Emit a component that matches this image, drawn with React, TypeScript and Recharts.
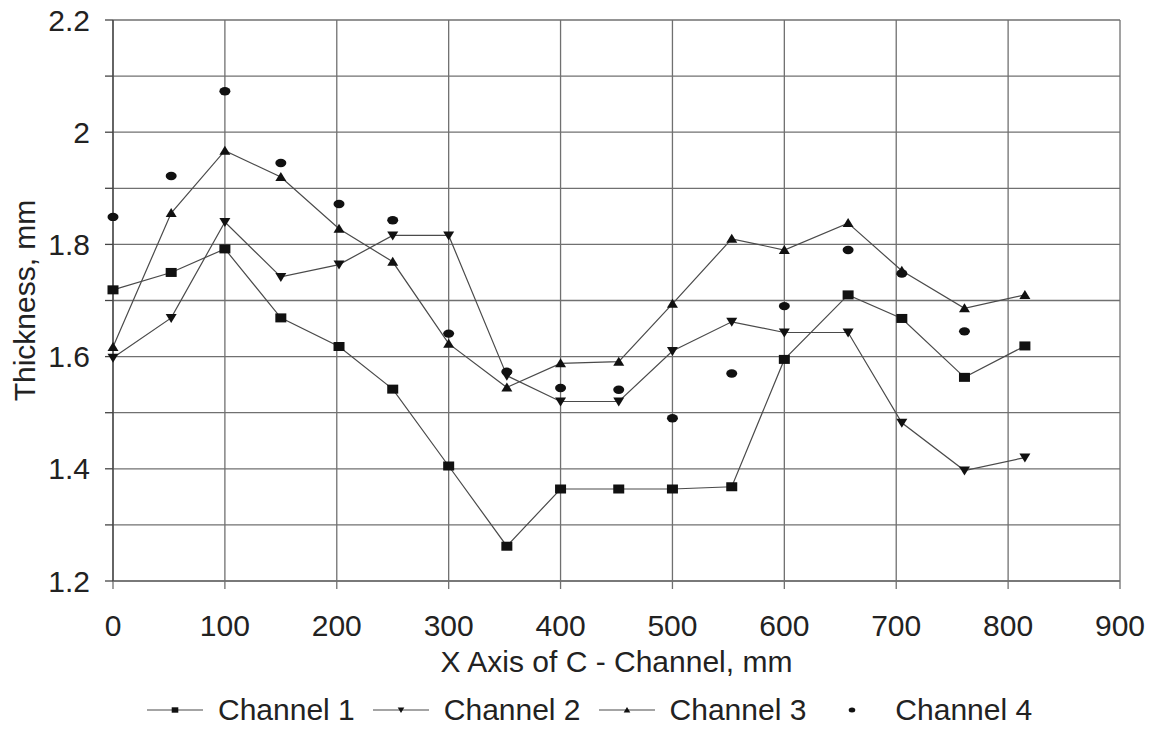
import { LineChart, Line, XAxis, YAxis, CartesianGrid, Legend, Label } from 'recharts';

// x positions along the C-channel (mm)
const xPositions = [0, 52, 100, 150, 202, 250, 300, 352, 400, 452, 500, 553, 600, 657, 705, 761, 815];

const channel1 = [1.719, 1.75, 1.792, 1.669, 1.618, 1.542, 1.405, 1.262, 1.364, 1.364, 1.364, 1.368, 1.595, 1.71, 1.668, 1.563, 1.619];
const channel2 = [1.598, 1.669, 1.84, 1.742, 1.764, 1.816, 1.816, 1.566, 1.52, 1.52, 1.61, 1.662, 1.643, 1.643, 1.482, 1.397, 1.42];
const channel3 = [1.617, 1.856, 1.967, 1.92, 1.828, 1.769, 1.623, 1.545, 1.588, 1.591, 1.694, 1.81, 1.79, 1.838, 1.753, 1.686, 1.71];
const channel4 = [1.849, 1.922, 2.073, 1.945, 1.872, 1.843, 1.641, 1.573, 1.544, 1.541, 1.49, 1.57, 1.69, 1.79, 1.748, 1.645, null];

const xTicks = [0, 100, 200, 300, 400, 500, 600, 700, 800, 900];
const yTicks = [1.2, 1.3, 1.4, 1.5, 1.6, 1.7, 1.8, 1.9, 2.0, 2.1, 2.2];

const seriesNames = ['Channel 1', 'Channel 2', 'Channel 3', 'Channel 4'];

const data = xPositions.map((x, i) => ({
  x,
  ch1: channel1[i],
  ch2: channel2[i],
  ch3: channel3[i],
  ch4: channel4[i],
}));

const FONT = '"Liberation Sans", Arial, sans-serif';
const TEXT = '#222';
const GRID = '#707070';
const LINE = '#4a4a4a';
const MARK = '#111';

// marker shapes
const Marker = ({ kind, cx, cy, s = 1 }: { kind: string; cx: number; cy: number; s?: number }) => {
  if (cx == null || cy == null) return null;
  if (kind === 'square') {
    return <rect x={cx - 5.5 * s} y={cy - 4.5 * s} width={11 * s} height={9 * s} fill={MARK} />;
  }
  if (kind === 'down') {
    return <path d={`M${cx - 5.5 * s},${cy - 4 * s}L${cx + 5.5 * s},${cy - 4 * s}L${cx},${cy + 5 * s}Z`} fill={MARK} />;
  }
  if (kind === 'up') {
    return <path d={`M${cx - 5.5 * s},${cy + 4 * s}L${cx + 5.5 * s},${cy + 4 * s}L${cx},${cy - 5 * s}Z`} fill={MARK} />;
  }
  return <ellipse cx={cx} cy={cy} rx={5.5 * s} ry={4.2 * s} fill={MARK} />;
};

const dotOf = (kind: string) => (props: any) => (
  <Marker key={`${kind}-${props.index}`} kind={kind} cx={props.cx} cy={props.cy} />
);

const kinds = ['square', 'down', 'up', 'circle'];

const LegendContent = () => (
  <div style={{ display: 'flex', alignItems: 'center', height: 40, paddingLeft: 147, fontFamily: FONT, fontSize: 30, color: TEXT }}>
    {seriesNames.map((name, i) => (
      <div key={name} style={{ display: 'flex', alignItems: 'center', marginRight: 18 }}>
        <svg width={56} height={20} style={{ marginRight: 15 }}>
          {i < 3 && <line x1={0} y1={10} x2={56} y2={10} stroke={LINE} strokeWidth={1.2} />}
          <Marker kind={kinds[i]} cx={28} cy={10} s={0.6} />
        </svg>
        <span style={{ whiteSpace: 'nowrap' }}>{name}</span>
      </div>
    ))}
  </div>
);

export default function App() {
  return (
    <div style={{ position: 'absolute', left: 0, top: 0, width: 1153, height: 731, background: '#fff' }}>
      <LineChart width={1153} height={731} data={data} margin={{ top: 20, right: 33, left: 3, bottom: 10 }}>
        <CartesianGrid stroke={GRID} strokeWidth={1.3} />
        <XAxis
          dataKey="x"
          type="number"
          domain={[0, 900]}
          ticks={xTicks}
          interval={0}
          height={100}
          tickSize={8}
          tickMargin={26}
          axisLine={{ stroke: GRID, strokeWidth: 1.3 }}
          tickLine={{ stroke: GRID, strokeWidth: 1.3 }}
          tick={{ fill: TEXT, fontSize: 30, fontFamily: FONT }}
        >
          <Label
            content={({ viewBox }: any) => (
              <text
                x={viewBox.x + viewBox.width / 2}
                y={viewBox.y + 91}
                textAnchor="middle"
                fill={TEXT}
                fontSize={30}
                fontFamily={FONT}
              >
                X Axis of C - Channel, mm
              </text>
            )}
          />
        </XAxis>
        <YAxis
          type="number"
          domain={[1.2, 2.2]}
          ticks={yTicks}
          interval={0}
          width={110}
          tickSize={8}
          tickMargin={15}
          axisLine={{ stroke: '#444', strokeWidth: 1.3 }}
          tickLine={{ stroke: '#444', strokeWidth: 1.3 }}
          tick={{ fill: TEXT, fontSize: 30, fontFamily: FONT }}
          tickFormatter={(v: number) => (Math.round(v * 10) % 2 === 0 ? String(Math.round(v * 10) / 10) : '')}
        >
          <Label
            content={({ viewBox }: any) => {
              const cx = 24;
              const cy = viewBox.y + viewBox.height / 2;
              return (
                <text
                  x={cx}
                  y={cy}
                  dy="0.36em"
                  transform={`rotate(-90, ${cx}, ${cy})`}
                  textAnchor="middle"
                  fill={TEXT}
                  fontSize={30}
                  fontFamily={FONT}
                >
                  Thickness, mm
                </text>
              );
            }}
          />
        </YAxis>
        <Legend
          verticalAlign="bottom"
          content={LegendContent}
          wrapperStyle={{ top: 690, left: 0, bottom: 'auto', width: 1153, height: 40 }}
        />
        <Line dataKey="ch1" name="Channel 1" stroke={LINE} strokeWidth={1.2} dot={dotOf('square')} activeDot={false} isAnimationActive={false} />
        <Line dataKey="ch2" name="Channel 2" stroke={LINE} strokeWidth={1.2} dot={dotOf('down')} activeDot={false} isAnimationActive={false} />
        <Line dataKey="ch3" name="Channel 3" stroke={LINE} strokeWidth={1.2} dot={dotOf('up')} activeDot={false} isAnimationActive={false} />
        <Line dataKey="ch4" name="Channel 4" stroke="none" dot={dotOf('circle')} activeDot={false} isAnimationActive={false} />
      </LineChart>
    </div>
  );
}
